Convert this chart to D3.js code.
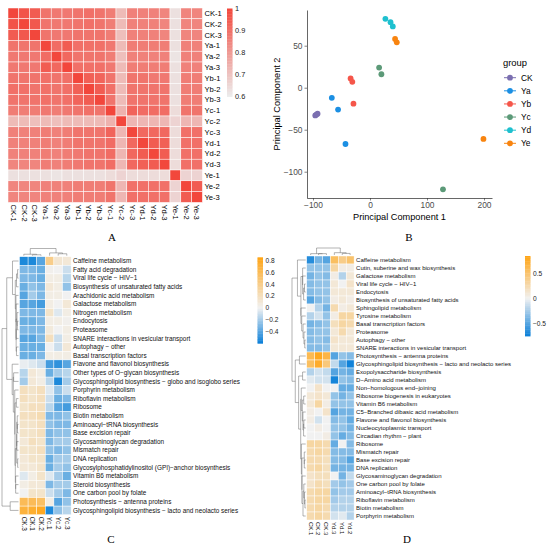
<!DOCTYPE html>
<html>
<head>
<meta charset="utf-8">
<script src="https://cdn.jsdelivr.net/npm/d3@7"></script>
<style>
  body { margin: 0; background: #fff; }
  text { font-family: "Liberation Sans", Arial, sans-serif; }
  .panel-tag { font-family: "Liberation Serif", "Times New Roman", serif; font-size: 11px; }
</style>
</head>
<body>
<svg id="fig" width="550" height="548"></svg>
<script>
// ---- A: sample correlation ----
const samples = ["CK-1","CK-2","CK-3","Ya-1","Ya-2","Ya-3","Yb-1","Yb-2","Yb-3",
  "Yc-1","Yc-2","Yc-3","Yd-1","Yd-2","Yd-3","Ye-1","Ye-2","Ye-3"];
const corr = [
  [1, .97, .95, .89, .88, .88, .89, .90, .89, .87, .72, .86, .86, .86, .85, .63, .85, .85],
  [.97, 1, .96, .89, .88, .88, .89, .90, .89, .87, .72, .86, .86, .86, .85, .63, .85, .85],
  [.95, .96, 1, .89, .88, .88, .89, .89, .89, .87, .71, .86, .86, .86, .85, .63, .85, .85],
  [.89, .89, .89, 1, .91, .95, .90, .90, .90, .88, .72, .87, .87, .87, .87, .63, .86, .86],
  [.88, .88, .88, .91, 1, .92, .89, .89, .89, .87, .71, .86, .86, .86, .86, .62, .86, .86],
  [.88, .88, .88, .95, .92, 1, .90, .90, .90, .88, .72, .87, .87, .87, .87, .63, .86, .86],
  [.89, .89, .89, .90, .89, .90, 1, .94, .93, .89, .72, .89, .89, .88, .88, .63, .87, .87],
  [.90, .90, .89, .90, .89, .90, .94, 1, .95, .90, .72, .89, .89, .89, .89, .63, .87, .87],
  [.89, .89, .89, .90, .89, .90, .93, .95, 1, .89, .72, .89, .89, .89, .89, .63, .87, .87],
  [.87, .87, .87, .88, .87, .88, .89, .90, .89, 1, .74, .93, .91, .91, .91, .64, .89, .89],
  [.72, .72, .71, .72, .71, .72, .72, .72, .72, .74, 1, .73, .73, .73, .73, .66, .73, .73],
  [.86, .86, .86, .87, .86, .87, .89, .89, .89, .93, .73, 1, .92, .92, .92, .64, .90, .90],
  [.86, .86, .86, .87, .86, .87, .89, .89, .89, .91, .73, .92, 1, .95, .94, .64, .90, .90],
  [.86, .86, .86, .87, .86, .87, .88, .89, .89, .91, .73, .92, .95, 1, .95, .64, .90, .90],
  [.85, .85, .85, .87, .86, .87, .88, .89, .89, .91, .73, .92, .94, .95, 1, .64, .90, .90],
  [.63, .63, .63, .63, .62, .63, .63, .63, .63, .64, .66, .64, .64, .64, .64, 1, .66, .66],
  [.85, .85, .85, .86, .86, .86, .87, .87, .87, .89, .73, .90, .90, .90, .90, .66, 1, .95],
  [.85, .85, .85, .86, .86, .86, .87, .87, .87, .89, .73, .90, .90, .90, .90, .66, .95, 1]
];
const corrTicks = [1, 0.9, 0.8, 0.7, 0.6];

// ---- B: PCA ----
const pcGroups = ["CK","Ya","Yb","Yc","Yd","Ye"];
const pcColors = ["#7b6fb0","#1b8fe3","#f5564a","#5c9a78","#1ec0cf","#f8840f"];
const pcGroup = ["CK","CK","CK","Ya","Ya","Ya","Yb","Yb","Yb","Yc","Yc","Yc","Yd","Yd","Yd","Ye","Ye","Ye"];
const pc1 = [-96, -94, -92, -67, -56, -43, -34, -31, -29, 16, 20, 128, 27, 36, 40, 44, 47, 199];
const pc2 = [-33, -32, -31, -12, -26, -67, 11, 7, -19, 24, 16, -121, 82, 78, 73, 58, 54, -61];
const pcXTicks = [-100, 0, 100, 200];
const pcYTicks = [-100, -50, 0, 50];

// ---- C: CK vs Yc pathways ----
const colsC = ["CK.3","CK.1","CK.2","Yc.1","Yc.2","Yc.3"];
const pathwaysC = [
  "Caffeine metabolism","Fatty acid degradation","Viral life cycle \u2212 HIV\u22121",
  "Biosynthesis of unsaturated fatty acids","Arachidonic acid metabolism","Galactose metabolism",
  "Nitrogen metabolism","Endocytosis","Proteasome","SNARE interactions in vesicular transport",
  "Autophagy \u2212 other","Basal transcription factors","Flavone and flavonol biosynthesis",
  "Other types of O\u2212glycan biosynthesis","Glycosphingolipid biosynthesis \u2212 globo and isoglobo series",
  "Porphyrin metabolism","Riboflavin metabolism","Ribosome","Biotin metabolism",
  "Aminoacyl\u2212tRNA biosynthesis","Base excision repair","Glycosaminoglycan degradation",
  "Mismatch repair","DNA replication","Glycosylphosphatidylinositol (GPI)\u2212anchor biosynthesis",
  "Vitamin B6 metabolism","Steroid biosynthesis","One carbon pool by folate",
  "Photosynthesis \u2212 antenna proteins","Glycosphingolipid biosynthesis \u2212 lacto and neolacto series"
];
const valuesC = [
  [-0.55, -0.55, -0.4, 0.4, 0.12, 0.1],
  [-0.3, -0.3, -0.35, 0.02, 0.0, -0.1],
  [-0.3, -0.3, -0.35, 0.05, 0.05, -0.15],
  [-0.35, -0.25, -0.3, 0.1, 0.05, -0.25],
  [-0.4, -0.2, -0.3, 0.05, 0.05, 0.0],
  [-0.4, -0.4, -0.45, 0.05, 0.0, 0.1],
  [-0.3, -0.3, -0.3, 0.15, -0.05, 0.05],
  [-0.35, -0.35, -0.3, 0.05, 0.05, 0.02],
  [-0.3, -0.3, -0.3, 0.08, 0.0, 0.05],
  [-0.4, -0.4, -0.3, 0.2, -0.1, 0.05],
  [-0.35, -0.35, -0.35, 0.0, -0.1, 0.1],
  [-0.35, -0.35, -0.3, 0.05, 0.05, 0.05],
  [-0.02, -0.05, -0.1, -0.45, -0.5, -0.4],
  [-0.15, 0.1, 0.05, -0.35, -0.2, -0.15],
  [-0.2, 0.1, 0.05, -0.15, -0.55, -0.2],
  [0.2, 0.15, 0.2, -0.05, -0.25, -0.1],
  [0.2, 0.15, 0.2, -0.1, -0.35, -0.3],
  [0.15, 0.2, 0.2, -0.15, -0.4, -0.45],
  [0.2, 0.2, 0.25, -0.3, -0.3, -0.25],
  [0.15, 0.15, 0.2, -0.25, -0.3, -0.3],
  [0.15, 0.15, 0.2, -0.3, -0.25, -0.25],
  [0.1, 0.2, 0.15, -0.3, -0.2, -0.2],
  [0.15, 0.15, 0.2, -0.25, -0.3, -0.25],
  [0.1, 0.15, 0.15, -0.35, -0.2, -0.2],
  [0.1, 0.1, 0.15, -0.35, -0.2, -0.25],
  [-0.05, 0.05, 0.15, -0.05, -0.2, -0.35],
  [0.05, 0.1, 0.1, -0.3, -0.2, -0.2],
  [0.0, 0.15, 0.15, -0.1, -0.2, -0.3],
  [0.6, 0.6, 0.55, 0.05, -0.4, -0.25],
  [0.7, 0.75, 0.8, -0.55, -0.25, -0.15]
];
const ticksC = [0.8, 0.6, 0.4, 0.2, 0, -0.2, -0.4];

// ---- D: CK vs Yd pathways ----
const colsD = ["CK.1","CK.2","CK.3","Yd.3","Yd.1","Yd.2"];
const pathwaysD = [
  "Caffeine metabolism","Cutin, suberine and wax biosynthesis","Galactose metabolism",
  "Viral life cycle \u2212 HIV\u22121","Endocytosis","Biosynthesis of unsaturated fatty acids",
  "Sphingolipid metabolism","Tyrosine metabolism","Basal transcription factors","Proteasome",
  "Autophagy \u2212 other","SNARE interactions in vesicular transport",
  "Photosynthesis \u2212 antenna proteins","Glycosphingolipid biosynthesis \u2212 lacto and neolacto series",
  "Exopolysaccharide biosynthesis","D\u2212Amino acid metabolism","Non\u2212homologous end\u2212joining",
  "Ribosome biogenesis in eukaryotes","Vitamin B6 metabolism","C5\u2212Branched dibasic acid metabolism",
  "Flavone and flavonol biosynthesis","Nucleocytoplasmic transport","Circadian rhythm \u2212 plant",
  "Ribosome","Mismatch repair","Base excision repair","DNA replication",
  "Glycosaminoglycan degradation","One carbon pool by folate","Aminoacyl\u2212tRNA biosynthesis",
  "Riboflavin metabolism","Biotin metabolism","Porphyrin metabolism"
];
const valuesD = [
  [-0.65, -0.4, -0.5, 0.55, 0.4, 0.5],
  [-0.3, -0.3, -0.3, 0.3, 0.05, 0.05],
  [-0.4, -0.3, -0.35, 0.05, -0.2, 0.1],
  [-0.35, -0.3, -0.3, 0.1, 0.0, 0.15],
  [-0.35, -0.3, -0.3, 0.1, 0.1, 0.1],
  [-0.5, -0.35, -0.3, 0.05, 0.1, 0.05],
  [0.0, -0.2, -0.4, 0.25, 0.05, 0.1],
  [-0.2, -0.1, -0.3, 0.05, 0.3, 0.3],
  [-0.4, -0.35, -0.3, 0.2, 0.3, 0.25],
  [-0.35, -0.3, -0.3, 0.1, 0.25, 0.1],
  [-0.35, -0.3, -0.35, 0.15, 0.1, 0.1],
  [-0.35, -0.35, -0.3, 0.1, 0.1, 0.1],
  [0.6, 0.8, 0.65, -0.5, -0.3, -0.35],
  [0.55, 0.75, 0.45, -0.15, -0.5, -0.72],
  [-0.2, -0.1, -0.15, -0.5, -0.4, -0.45],
  [-0.05, -0.1, -0.1, -0.7, -0.3, -0.35],
  [0.0, 0.15, 0.0, 0.0, -0.45, -0.45],
  [0.1, 0.15, 0.1, -0.3, -0.4, -0.3],
  [0.1, 0.3, 0.05, -0.3, -0.3, -0.3],
  [0.05, 0.0, 0.15, -0.5, -0.4, -0.4],
  [0.05, -0.1, 0.0, -0.35, -0.3, -0.45],
  [0.0, 0.05, 0.0, -0.3, -0.3, -0.4],
  [0.0, 0.0, 0.05, -0.3, -0.45, -0.35],
  [0.3, 0.3, 0.25, -0.45, 0.0, -0.35],
  [0.25, 0.3, 0.25, -0.35, -0.35, -0.35],
  [0.25, 0.25, 0.2, -0.35, -0.35, -0.5],
  [0.25, 0.3, 0.2, -0.4, -0.4, -0.4],
  [0.15, 0.2, 0.2, 0.0, -0.4, -0.15],
  [0.15, 0.25, 0.2, -0.25, -0.3, -0.25],
  [0.25, 0.3, 0.3, -0.3, -0.25, -0.25],
  [0.25, 0.3, 0.3, -0.25, -0.2, -0.2],
  [0.25, 0.3, 0.25, -0.2, -0.2, -0.2],
  [0.25, 0.3, 0.25, -0.1, -0.05, -0.2]
];
const ticksD = [0.5, 0, -0.5];

const svg = d3.select("#fig");

// ===== Panel A =====
const gA = svg.append("g");
const xA = d3.scaleBand().domain(samples).range([8, 202.4]);
const yA = d3.scaleBand().domain(samples).range([8, 202.4]);
const colA = d3.scaleLinear().domain([0.6, 1]).range(["#ececec", "#f2473c"]).clamp(true);

corr.forEach((row, i) => {
  gA.selectAll(null).data(row).join("rect")
    .attr("x", (d, j) => xA(samples[j]))
    .attr("y", yA(samples[i]))
    .attr("width", xA.bandwidth())
    .attr("height", yA.bandwidth())
    .attr("fill", d => colA(d))
    .attr("stroke", "#fff")
    .attr("stroke-width", 0.5);
});

gA.selectAll(".rl").data(samples).join("text")
  .attr("x", 204.5)
  .attr("y", d => yA(d) + yA.bandwidth() / 2)
  .attr("dy", "0.35em")
  .attr("font-size", 7.6)
  .text(d => d);

gA.selectAll(".cl").data(samples).join("text")
  .attr("transform", d => `translate(${xA(d) + xA.bandwidth() / 2},204.5) rotate(90)`)
  .attr("dy", "0.35em")
  .attr("font-size", 7.6)
  .text(d => d);

// colour key
function colorKey(g, scale, x, y0, y1, lo, hi, ticks, fs, fmt) {
  const ky = d3.scaleLinear().domain([hi, lo]).range([y0, y1]);
  const steps = d3.range(0, 60);
  const h = (y1 - y0) / steps.length;
  g.selectAll(null).data(steps).join("rect")
    .attr("x", x).attr("width", 5.5)
    .attr("y", s => y0 + s * h).attr("height", h + 0.4)
    .attr("fill", s => scale(hi - (s + 0.5) / steps.length * (hi - lo)));
  g.selectAll(null).data(ticks).join("text")
    .attr("x", x + 8)
    .attr("y", d => ky(d))
    .attr("dy", "0.35em")
    .attr("font-size", fs)
    .attr("fill", "#222")
    .text(fmt);
}
colorKey(gA, colA, 227, 8.5, 96.5, 0.6, 1, corrTicks, 7.4, d => d3.format("")(d));

svg.append("text").attr("class", "panel-tag").attr("x", 112).attr("y", 241)
  .attr("text-anchor", "middle").text("A");

// ===== Panel B =====
const gB = svg.append("g");
const xB = d3.scaleLinear().domain([-110.5, 214]).range([307, 492]);
const yB = d3.scaleLinear().domain([-131.3, 92.5]).range([198, 10]);
const colB = d3.scaleOrdinal().domain(pcGroups).range(pcColors);

const axX = gB.append("g").attr("transform", "translate(0,198)")
  .call(d3.axisBottom(xB).tickValues(pcXTicks).tickSize(2.5).tickSizeOuter(0).tickPadding(1.5));
const axY = gB.append("g").attr("transform", "translate(307,0)")
  .call(d3.axisLeft(yB).tickValues(pcYTicks).tickSize(2.5).tickSizeOuter(0).tickPadding(2));
[axX, axY].forEach(ax => {
  ax.select(".domain").attr("stroke", "#000").attr("stroke-width", 0.6);
  ax.selectAll(".tick line").attr("stroke", "#333").attr("stroke-width", 0.6);
  ax.selectAll(".tick text").attr("font-size", 8.4).attr("fill", "#4d4d4d")
    .attr("font-family", "Liberation Sans, Arial, sans-serif");
});

gB.selectAll("circle.pt").data(pc1).join("circle")
  .attr("class", "pt")
  .attr("cx", d => xB(d))
  .attr("cy", (d, i) => yB(pc2[i]))
  .attr("r", 2.9)
  .attr("fill", (d, i) => colB(pcGroup[i]));

gB.append("text").attr("x", 399.5).attr("y", 220).attr("text-anchor", "middle")
  .attr("font-size", 9.2).text("Principal Component 1");
gB.append("text").attr("transform", "translate(280,104) rotate(-90)").attr("text-anchor", "middle")
  .attr("font-size", 9.2).text("Principal Component 2");

const leg = gB.append("g");
leg.append("text").attr("x", 503).attr("y", 66).attr("font-size", 9.4).text("group");
const legY = d3.scalePoint().domain(pcGroups).range([77.7, 143.3]);
pcGroups.forEach(gname => {
  const yy = legY(gname);
  leg.append("line").attr("x1", 504).attr("x2", 516).attr("y1", yy).attr("y2", yy)
    .attr("stroke", colB(gname)).attr("stroke-width", 1);
  leg.append("circle").attr("cx", 510).attr("cy", yy).attr("r", 2.9).attr("fill", colB(gname));
  leg.append("text").attr("x", 521).attr("y", yy).attr("dy", "0.35em")
    .attr("font-size", 8.4).text(gname);
});

svg.append("text").attr("class", "panel-tag").attr("x", 409).attr("y", 241)
  .attr("text-anchor", "middle").text("B");

// ===== clustered heatmaps C & D =====
// merge neighbouring clusters only, so the tree keeps the displayed order
function adjacentTree(rows) {
  const dist = (a, b) => {
    let s = 0;
    for (const i of a.members) for (const j of b.members)
      s += Math.sqrt(d3.sum(rows[i], (x, k) => (x - rows[j][k]) ** 2));
    return s / (a.members.length * b.members.length);
  };
  let clusters = rows.map((v, i) => ({ members: [i], pos: i, h: 0, kids: null }));
  const merges = [];
  while (clusters.length > 1) {
    let best = 0, bd = Infinity;
    for (let i = 0; i < clusters.length - 1; i++) {
      const d = dist(clusters[i], clusters[i + 1]);
      if (d < bd) { bd = d; best = i; }
    }
    const a = clusters[best], b = clusters[best + 1];
    const node = { members: a.members.concat(b.members), pos: (a.pos + b.pos) / 2,
      h: Math.max(bd, a.h, b.h) * 1.0001, kids: [a, b] };
    merges.push(node);
    clusters.splice(best, 2, node);
  }
  return { root: clusters[0], merges };
}

function clusterHeatmap(cfg) {
  const g = svg.append("g");
  const nR = cfg.rows.length, nC = cfg.cols.length;
  const x = d3.scaleBand().domain(d3.range(nC)).range([cfg.x0, cfg.x0 + cfg.cw * nC]);
  const y = d3.scaleBand().domain(d3.range(nR)).range([cfg.y0, cfg.y0 + cfg.ch * nR]);
  const col = d3.scaleLinear().domain([cfg.lo, 0, cfg.hi])
    .range(["#0a7fd8", "#f1f1f1", "#ffa414"]).clamp(true);

  cfg.values.forEach((row, i) => {
    g.selectAll(null).data(row).join("rect")
      .attr("x", (d, j) => x(j)).attr("y", y(i))
      .attr("width", x.bandwidth()).attr("height", y.bandwidth())
      .attr("fill", d => col(d))
      .attr("stroke", "#fff").attr("stroke-width", 0.45);
  });

  g.selectAll(null).data(cfg.rows).join("text")
    .attr("x", cfg.x0 + cfg.cw * nC + 2)
    .attr("y", (d, i) => y(i) + y.bandwidth() / 2)
    .attr("dy", "0.35em").attr("font-size", cfg.fs).attr("fill", "#111")
    .text(d => d);

  g.selectAll(null).data(cfg.cols).join("text")
    .attr("transform", (d, j) => `translate(${x(j) + x.bandwidth() / 2},${cfg.y0 + cfg.ch * nR + 2}) rotate(90)`)
    .attr("dy", "0.35em").attr("font-size", cfg.fs).attr("fill", "#111")
    .text(d => d);

  // row dendrogram
  const rt = adjacentTree(cfg.values);
  const rh = d3.scaleLinear().domain([0, rt.root.h]).range([cfg.x0 - 1, cfg.rdx]);
  const rp = p => cfg.y0 + (p + 0.5) * cfg.ch;
  const dl = g.append("g").attr("stroke", "#666").attr("stroke-width", 0.5).attr("fill", "none");
  rt.merges.forEach(n => {
    n.kids.forEach(k => dl.append("line")
      .attr("x1", rh(k.h)).attr("x2", rh(n.h)).attr("y1", rp(k.pos)).attr("y2", rp(k.pos)));
    dl.append("line").attr("x1", rh(n.h)).attr("x2", rh(n.h))
      .attr("y1", rp(n.kids[0].pos)).attr("y2", rp(n.kids[1].pos));
  });

  // column dendrogram
  const colVecs = cfg.cols.map((c, j) => cfg.values.map(r => r[j]));
  const ct = adjacentTree(colVecs);
  const chs = d3.scaleLinear().domain([0, ct.root.h]).range([cfg.y0 - 1, cfg.cdy]);
  const cp = p => cfg.x0 + (p + 0.5) * cfg.cw;
  ct.merges.forEach(n => {
    n.kids.forEach(k => dl.append("line")
      .attr("y1", chs(k.h)).attr("y2", chs(n.h)).attr("x1", cp(k.pos)).attr("x2", cp(k.pos)));
    dl.append("line").attr("y1", chs(n.h)).attr("y2", chs(n.h))
      .attr("x1", cp(n.kids[0].pos)).attr("x2", cp(n.kids[1].pos));
  });

  colorKey(g, col, cfg.kx, cfg.ky0, cfg.ky1, cfg.lo, cfg.hi, cfg.ticks, 6.6, d => d3.format("")(d));

  svg.append("text").attr("class", "panel-tag").attr("x", cfg.tagX).attr("y", 543)
    .attr("text-anchor", "middle").text(cfg.tag);
}

clusterHeatmap({
  rows: pathwaysC, cols: colsC, values: valuesC,
  x0: 19.5, y0: 256.7, cw: 8.6, ch: 8.6, fs: 6.4,
  rdx: 2, cdy: 248.5, lo: -0.6, hi: 0.86,
  kx: 257.5, ky0: 257.3, ky1: 343.3, ticks: ticksC, tag: "C", tagX: 111
});
clusterHeatmap({
  rows: pathwaysD, cols: colsD, values: valuesD,
  x0: 306.7, y0: 256, cw: 7.9, ch: 8, fs: 6.0,
  rdx: 292, cdy: 248, lo: -0.74, hi: 0.84,
  kx: 525, ky0: 256, ky1: 336, ticks: ticksD, tag: "D", tagX: 407
});
</script>
</body>
</html>
